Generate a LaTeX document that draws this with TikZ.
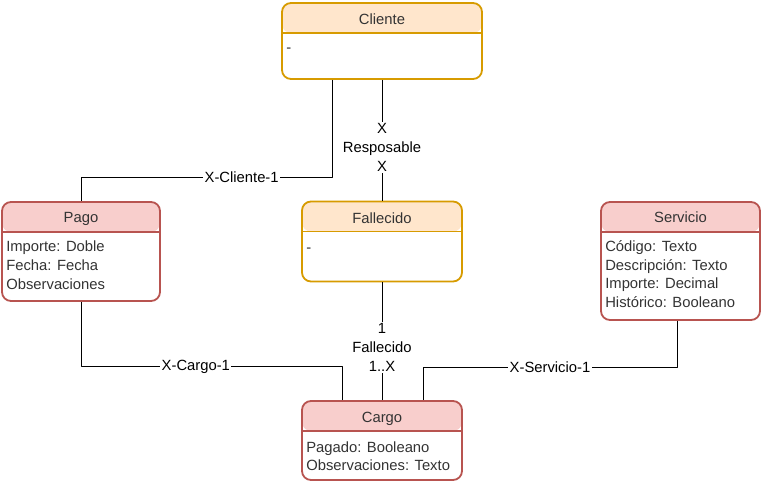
\documentclass[tikz,border=0pt]{standalone}
\usepackage{fontspec}
\setmainfont{Liberation Sans}
\definecolor{orfill}{HTML}{FFE6CC}
\definecolor{ordraw}{HTML}{D79B00}
\definecolor{rdfill}{HTML}{F8CECC}
\definecolor{rddraw}{HTML}{B85450}
\definecolor{txtgray}{HTML}{333333}
\tikzset{
	entity/.style n args={2}{draw=#2, fill=white, line width=1.8pt, rounded corners=9pt, inner sep=0pt,
		path picture={\fill[#1] (path picture bounding box.north west) rectangle ([yshift=-30pt]path picture bounding box.north east);
			\draw[#2, line width=1.8pt] ([yshift=-30pt]path picture bounding box.north west) -- ([yshift=-30pt]path picture bounding box.north east);}},
	entor/.style={entity={orfill}{ordraw}},
	entrd/.style={entity={rdfill}{rddraw}},
	title/.style={text=txtgray, inner sep=0pt},
	attrs/.style={anchor=north west, align=left, inner sep=0pt, text=txtgray},
	lbl/.style={fill=white, inner sep=1.5pt, align=center}
}
\begin{document}
\begin{tikzpicture}[x=1pt, y=-1pt, line join=round, font=\fontsize{14.8}{18.8}\selectfont]
	\useasboundingbox (0,0) rectangle (762,482);
	% entidades
	\node[entor, minimum width=200pt, minimum height=76pt] (cliente) at (382,41) {};
	\node[entrd, minimum width=158pt, minimum height=99pt] (pago) at (81,251.5) {};
	\node[entor, minimum width=160pt, minimum height=80pt] (fallecido) at (382,241.5) {};
	\node[entrd, minimum width=159pt, minimum height=118pt] (servicio) at (680.5,261) {};
	\node[entrd, minimum width=160pt, minimum height=79pt] (cargo) at (382,440.5) {};
	% titulos
	\node[title] at ([yshift=-17pt]cliente.north) {Cliente};
	\node[title] at ([yshift=-17.5pt]pago.north) {Pago};
	\node[title] at ([yshift=-17.5pt]fallecido.north) {Fallecido};
	\node[title] at ([yshift=-16.5pt]servicio.north) {Servicio};
	\node[title] at ([yshift=-18.5pt]cargo.north) {Cargo};
	% atributos
	\node[attrs] at ([xshift=5pt,yshift=-40pt]cliente.north west) {\vphantom{I}-};
	\node[attrs] at ([xshift=5pt,yshift=-39.5pt]pago.north west) {Importe: Doble\\Fecha: Fecha\\Observaciones};
	\node[attrs] at ([xshift=5pt,yshift=-42pt]fallecido.north west) {\vphantom{I}-};
	\node[attrs] at ([xshift=5pt,yshift=-39pt]servicio.north west) {Código: Texto\\Descripción: Texto\\Importe: Decimal\\Histórico: Booleano};
	\node[attrs] at ([xshift=5pt,yshift=-41pt]cargo.north west) {Pagado: Booleano\\Observaciones: Texto};
	% relaciones
	\draw ([xshift=-50pt]cliente.south) -- ++(0,97) -| node[lbl, pos=0.18] {X-Cliente-1} (pago.north);
	\draw (cliente.south) -- node[lbl, pos=0.56] {X\\Resposable\\X} (fallecido.north);
	\draw (fallecido.south) -- node[lbl, pos=0.55] {1\\Fallecido\\1..X} (cargo.north);
	\draw (pago.south) -- ++(0,64.5) -| node[lbl, pos=0.22] {X-Cargo-1} ([xshift=-40pt]cargo.north);
	\draw ([xshift=-3.5pt]servicio.south) -- ++(0,46) -| node[lbl, pos=0.25] {X-Servicio-1} ([xshift=41pt]cargo.north);
\end{tikzpicture}
\end{document}
